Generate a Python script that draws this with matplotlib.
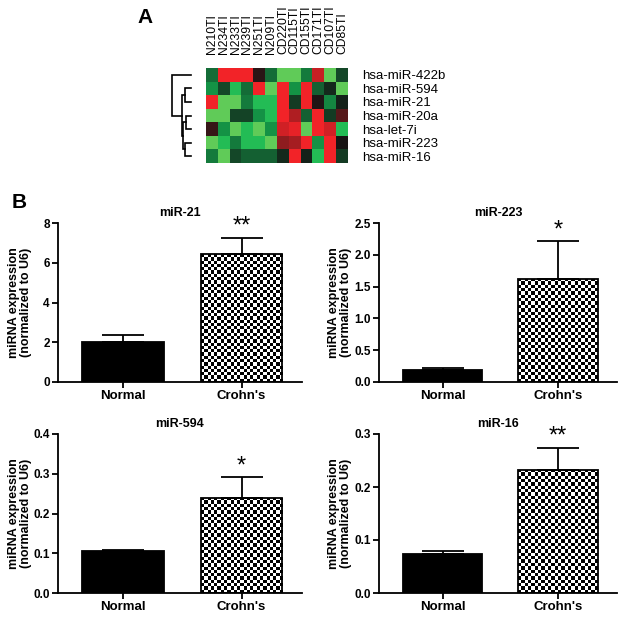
#!/usr/bin/env python3
"""
Panel A: miRNA heatmap with dendrogram; Panel B: qPCR bars Normal vs Crohn's
"""

import numpy as np
import matplotlib
matplotlib.use("Agg")
import matplotlib.pyplot as plt
from matplotlib.colors import LinearSegmentedColormap

plt.rcParams['font.family'] = ['Liberation Sans', 'DejaVu Sans']

# ---------- Data: heatmap ----------
samples = ["N210TI", "N234TI", "N233TI", "N239TI", "N251TI", "N209TI",
           "CD220TI", "CD115TI", "CD155TI", "CD171TI", "CD107TI", "CD85TI"]
heat_mirnas = ["hsa-miR-422b", "hsa-miR-594", "hsa-miR-21", "hsa-miR-20a",
               "hsa-let-7i", "hsa-miR-223", "hsa-miR-16"]
row_422b = [-0.35, 1, 1, 1, 0.1, -0.35, -0.9, -0.9, -0.4, 0.8, -0.9, -0.2]
row_594 = [-0.5, -0.2, -0.7, -0.35, 1, -0.9, 1, -0.5, 1, -0.3, -0.08, -0.9]
row_21 = [1, -0.9, -0.9, -0.4, -0.7, -0.7, 1, -0.15, 1, 0.05, -0.45, -0.05]
row_20a = [-0.9, -0.9, -0.18, -0.18, -0.5, -0.7, 1, 0.7, -0.3, 1, -0.15, 0.3]
row_let7i = [0.15, -0.5, -0.9, -0.7, -0.9, -0.5, 0.85, 0.95, -0.9, 1, 0.85, -0.7]
row_223 = [-0.9, -0.7, -0.4, -0.7, -0.7, -0.9, 0.55, 0.65, 1, -0.5, 1, 0.02]
row_16 = [-0.4, -0.9, -0.2, -0.3, -0.3, -0.3, -0.08, 1, -0.05, -0.7, 1, -0.15]

# dendrogram merges (left id, right id, height); leaves 0-6, new ids from 7
dendro_merges = [(1, 2, 5.5), (3, 4, 4.5), (5, 6, 5.5),
                 (8, 9, 7.5), (7, 10, 8.5), (0, 11, 19.0)]

# ---------- Data: bar charts ----------
groups = ["Normal", "Crohn's"]
bar_titles = ["miR-21", "miR-223", "miR-594", "miR-16"]
mir21_mean, mir21_sem = [2.0, 6.42], [0.38, 0.84]
mir223_mean, mir223_sem = [0.19, 1.62], [0.025, 0.59]
mir594_mean, mir594_sem = [0.105, 0.240], [0.004, 0.051]
mir16_mean, mir16_sem = [0.073, 0.233], [0.007, 0.041]
signif = ["**", "*", "*", "**"]
y_max = [8, 2.5, 0.4, 0.3]
y_step = [2, 0.5, 0.1, 0.1]

W, H = 624, 617
fig = plt.figure(figsize=(W / 100, H / 100), dpi=100)


def px_axes(left, top, right, bottom):
    return fig.add_axes([left / W, 1 - bottom / H, (right - left) / W, (bottom - top) / H])


# ---------- Panel A ----------
heat = np.array([row_422b, row_594, row_21, row_20a, row_let7i, row_223, row_16])
cmap = LinearSegmentedColormap.from_list("gkr", [
    (0.0, (125 / 255, 210 / 255, 90 / 255)),
    (0.175, (20 / 255, 185 / 255, 85 / 255)),
    (0.5, (0.08, 0.08, 0.08)),
    (1.0, (242 / 255, 35 / 255, 40 / 255)),
])

axh = px_axes(206, 68, 348, 163)
axh.imshow(heat, cmap=cmap, vmin=-1, vmax=1, aspect='auto', interpolation='nearest')
axh.set_xticks(range(len(samples)))
axh.set_xticklabels(samples, rotation=90, fontsize=8.7)
axh.xaxis.tick_top()
axh.set_yticks(range(len(heat_mirnas)))
axh.set_yticklabels(heat_mirnas, fontsize=9.5)
axh.yaxis.tick_right()
axh.tick_params(axis='x', length=0, pad=10)
axh.tick_params(axis='y', length=0, pad=10)
for s in axh.spines.values():
    s.set_visible(False)

# dendrogram
axd = px_axes(168, 68, 192, 163)
pos = {i: (0.0, float(i)) for i in range(len(heat_mirnas))}
nid = len(heat_mirnas)
for a, b, h in dendro_merges:
    (xa, ya), (xb, yb) = pos[a], pos[b]
    axd.plot([xa, h, h, xb], [ya, ya, yb, yb], color='black', lw=1.2,
             solid_joinstyle='miter')
    pos[nid] = (h, (ya + yb) / 2)
    nid += 1
axd.set_xlim(22.7, -1.3)
axd.set_ylim(len(heat_mirnas) - 0.5, -0.5)
axd.set_axis_off()

fig.text(137 / W, 1 - 23 / H, "A", fontsize=15, fontweight='bold', ha='left', va='baseline')
fig.text(12 / W, 1 - 208 / H, "B", fontsize=15, fontweight='bold', ha='left', va='baseline')


# ---------- Panel B ----------
def checker_fill(ax, bar, cell=3.3):
    x0, y0 = bar.get_x(), bar.get_y()
    w, h = bar.get_width(), bar.get_height()
    p0 = ax.transData.transform((x0, y0))
    p1 = ax.transData.transform((x0 + w, y0 + h))
    nx = max(1, int(round(abs(p1[0] - p0[0]) / cell)))
    ny = max(1, int(round(abs(p1[1] - p0[1]) / cell)))
    grid = np.add.outer(np.arange(ny), np.arange(nx)) % 2
    im = ax.imshow(grid, cmap='gray', vmin=0, vmax=1, extent=(x0, x0 + w, y0, y0 + h),
                   interpolation='nearest', aspect='auto', zorder=0.5, origin='lower')
    im.set_clip_path(bar)


means = [mir21_mean, mir223_mean, mir594_mean, mir16_mean]
sems = [mir21_sem, mir223_sem, mir594_sem, mir16_sem]
boxes = [(58, 223, 302, 382), (379, 223, 617, 382),
         (58, 434, 302, 593), (379, 434, 617, 593)]
label_x = [-0.107, -0.115, -0.107, -0.115]

for i in range(4):
    ax = px_axes(*boxes[i])
    x = np.arange(len(groups))
    xlim = (-0.55, 1.51)
    ax.set_xlim(*xlim)
    ax.set_ylim(0, y_max[i])
    bars = ax.bar(x, means[i], width=0.69, color=['black', 'none'],
                  edgecolor='black', linewidth=1.3, zorder=1)
    checker_fill(ax, bars[1])
    ax.set_xlim(*xlim)
    ax.set_ylim(0, y_max[i])
    ax.errorbar(x, means[i], yerr=[np.zeros(len(groups)), sems[i]], fmt='none',
                ecolor='black', elinewidth=1.3, capsize=15, capthick=1.3, zorder=3)
    top = means[i][1] + sems[i][1]
    ax.annotate(signif[i], (x[1], top), xytext=(0, 0), textcoords='offset points',
                ha='center', va='bottom', fontsize=17)

    ticks = np.arange(0, y_max[i] + y_step[i] / 2, y_step[i])
    ax.set_yticks(ticks)
    if y_step[i] < 1:
        ax.set_yticklabels([f"{t:.1f}" for t in ticks])
    else:
        ax.set_yticklabels([f"{t:g}" for t in ticks])
    ax.set_xticks(x)
    ax.set_xticklabels(groups)
    for lab in ax.get_xticklabels() + ax.get_yticklabels():
        lab.set_fontweight('bold')
    ax.tick_params(axis='y', labelsize=8.5, width=1.3, length=4, pad=2)
    ax.tick_params(axis='x', labelsize=9.5, width=1.3, length=4, pad=2)
    for s in ['top', 'right']:
        ax.spines[s].set_visible(False)
    for s in ['left', 'bottom']:
        ax.spines[s].set_linewidth(1.3)
    ax.set_title(bar_titles[i], fontsize=9, fontweight='bold', pad=5)
    ax.set_ylabel("miRNA expression\n(normalized to U6)", fontsize=9, fontweight='bold',
                  linespacing=1.0)
    ax.yaxis.set_label_coords(label_x[i], 0.5)
    ax.set_facecolor('none')

fig.savefig("out.png", dpi=100)
